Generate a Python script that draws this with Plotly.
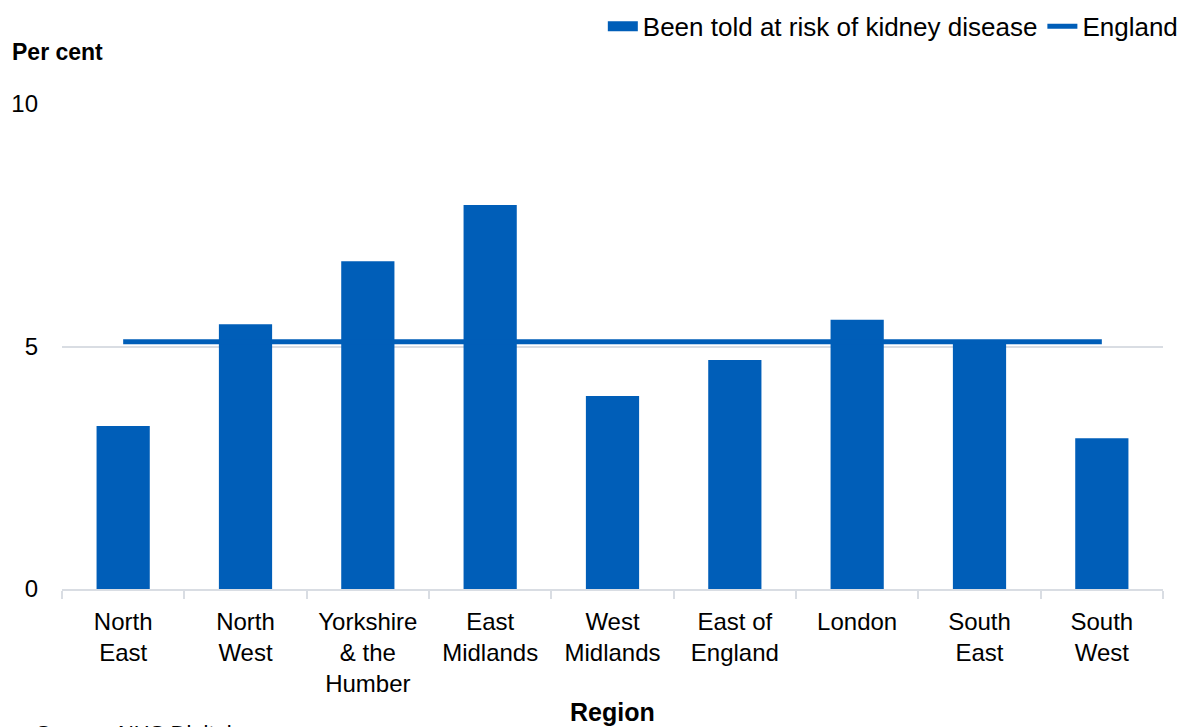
import plotly.graph_objects as go

regions = ["North<br>East", "North<br>West", "Yorkshire<br>& the<br>Humber", "East<br>Midlands",
           "West<br>Midlands", "East of<br>England", "London", "South<br>East", "South<br>West"]
told_at_risk = [3.36, 5.46, 6.76, 7.92, 3.98, 4.72, 5.55, 5.05, 3.11]
england = [5.1, 5.1, 5.1, 5.1, 5.1, 5.1, 5.1, 5.1, 5.1]
y_ticks = [0, 5, 10]

BLUE = "#005EB8"
GRID = "#D9DDE3"
FONT = "Liberation Sans, Arial, sans-serif"

fig = go.Figure()
fig.add_trace(go.Bar(x=regions, y=told_at_risk, name="Been told at risk of kidney disease",
                     marker=dict(color=BLUE, line=dict(width=0)),
                     legendgroup="bars", showlegend=False))
# legend entry styled as the wide rectangle used in the reference
fig.add_trace(go.Scatter(x=[None], y=[None], name="Been told at risk of kidney disease",
                         mode="lines", line=dict(color=BLUE, width=12),
                         legendgroup="bars", showlegend=True))
fig.add_trace(go.Scatter(x=regions, y=england, name="England", mode="lines",
                         line=dict(color=BLUE, width=5)))

fig.update_layout(
    width=1187, height=727,
    margin=dict(l=62, r=24, t=104, b=138, autoexpand=False),
    paper_bgcolor="white", plot_bgcolor="white",
    font=dict(family=FONT, size=24, color="black"),
    bargap=0.565,
    showlegend=True,
    legend=dict(orientation="h", x=1.018, xanchor="right", y=1.16, yanchor="middle",
                font=dict(size=26, family=FONT), tracegroupgap=0,
                bgcolor="rgba(0,0,0,0)"),
    xaxis=dict(showline=True, linecolor=GRID, linewidth=2, ticks="outside", tickson="boundaries",
               tickcolor=GRID, ticklen=8, tickwidth=2, tickfont=dict(size=24),
               ticklabelstandoff=10, showgrid=False, fixedrange=True),
    yaxis=dict(range=[0, 10], tickvals=y_ticks, showgrid=True, gridcolor=GRID, gridwidth=2,
               zeroline=False, showline=False, ticks="", tickfont=dict(size=24),
               ticklabelstandoff=23, fixedrange=True),
    annotations=[
        dict(text="<b>Per cent</b>", xref="paper", yref="paper", x=-0.047, y=1.107,
             xanchor="left", yanchor="middle", showarrow=False, font=dict(size=23)),
        dict(text="<b>Region</b>", xref="paper", yref="paper", x=0.5, y=-0.254,
             xanchor="center", yanchor="middle", showarrow=False, font=dict(size=25)),
        dict(text="Source: NHS Digital", xref="paper", yref="paper", x=-0.025, y=-0.269,
             xanchor="left", yanchor="top", showarrow=False, font=dict(size=22)),
    ],
)

fig.write_html("out.html", config={"displayModeBar": False},
               post_script="document.body.style.margin='0';")
